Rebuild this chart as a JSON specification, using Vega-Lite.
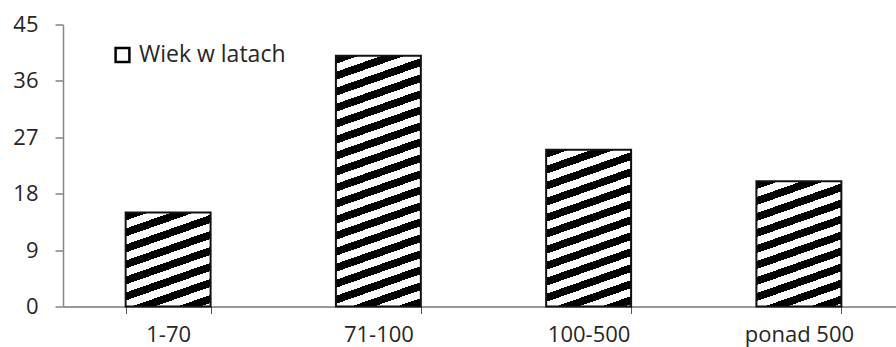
{
  "$schema": "https://vega.github.io/schema/vega-lite/v6.json",
  "autosize": "none",
  "width": 833,
  "height": 282,
  "padding": {"left": 63, "top": 24.5, "right": 0, "bottom": 40.5},
  "background": "white",
  "config": {"view": {"stroke": null}, "font": "Open Sans"},
  "data": {"values": [
    {"cat": "1-70", "v": 15},
    {"cat": "71-100", "v": 40},
    {"cat": "100-500", "v": 25},
    {"cat": "ponad 500", "v": 20}
  ]},
  "encoding": {
    "x": {"field": "cat", "type": "nominal", "sort": null,
      "scale": {"range": [0, 841], "paddingInner": 0.596, "paddingOuter": 0.298},
      "axis": {"title": null, "labelAngle": 0, "tickBand": "extent", "tickSize": 7, "labelPadding": 11,
        "labelFontSize": 22, "labelFont": "Open Sans", "labelColor": "#262626", "domainColor": "#333", "tickColor": "#555", "domainWidth": 1.2}},
    "y": {"field": "v", "type": "quantitative",
      "scale": {"domain": [0, 45], "nice": false},
      "axis": {"title": null, "values": [0, 9, 18, 27, 36, 45], "grid": false, "tickSize": 8, "labelPadding": 17,
        "labelFontSize": 22, "labelFont": "Open Sans", "labelColor": "#262626", "domainColor": "#888", "tickColor": "#444", "domainWidth": 1.5}}
  },
  "layer": [
    {
      "mark": {"type": "bar", "strokeWidth": 2, "stroke": "#111111"},
      "encoding": {
        "fill": {
          "condition": [
            {"test": "datum.cat === '1-70'", "value": {"gradient": "linear", "x1": 0, "y1": 0, "x2": 0.3787, "y2": 1.1966, "stops": [
              {"offset": 0, "color": "#000"}, {"offset": 0.0647, "color": "#000"}, {"offset": 0.0647, "color": "#fff"}, {"offset": 0.1294, "color": "#fff"},
              {"offset": 0.1294, "color": "#000"}, {"offset": 0.1940, "color": "#000"}, {"offset": 0.1940, "color": "#fff"}, {"offset": 0.2587, "color": "#fff"},
              {"offset": 0.2587, "color": "#000"}, {"offset": 0.3234, "color": "#000"}, {"offset": 0.3234, "color": "#fff"}, {"offset": 0.3881, "color": "#fff"},
              {"offset": 0.3881, "color": "#000"}, {"offset": 0.4528, "color": "#000"}, {"offset": 0.4528, "color": "#fff"}, {"offset": 0.5175, "color": "#fff"},
              {"offset": 0.5175, "color": "#000"}, {"offset": 0.5822, "color": "#000"}, {"offset": 0.5822, "color": "#fff"}, {"offset": 0.6468, "color": "#fff"},
              {"offset": 0.6468, "color": "#000"}, {"offset": 0.7115, "color": "#000"}, {"offset": 0.7115, "color": "#fff"}, {"offset": 0.7762, "color": "#fff"},
              {"offset": 0.7762, "color": "#000"}, {"offset": 0.8409, "color": "#000"}, {"offset": 0.8409, "color": "#fff"}, {"offset": 0.9056, "color": "#fff"},
              {"offset": 0.9056, "color": "#000"}, {"offset": 0.9703, "color": "#000"}, {"offset": 0.9703, "color": "#fff"}, {"offset": 1, "color": "#fff"}
            ]}},
            {"test": "datum.cat === '71-100'", "value": {"gradient": "linear", "x1": 0, "y1": 0, "x2": 0.1309, "y2": 1.1032, "stops": [
              {"offset": 0, "color": "#000"}, {"offset": 0.0285, "color": "#000"}, {"offset": 0.0285, "color": "#fff"}, {"offset": 0.0570, "color": "#fff"},
              {"offset": 0.0570, "color": "#000"}, {"offset": 0.0856, "color": "#000"}, {"offset": 0.0856, "color": "#fff"}, {"offset": 0.1141, "color": "#fff"},
              {"offset": 0.1141, "color": "#000"}, {"offset": 0.1426, "color": "#000"}, {"offset": 0.1426, "color": "#fff"}, {"offset": 0.1711, "color": "#fff"},
              {"offset": 0.1711, "color": "#000"}, {"offset": 0.1997, "color": "#000"}, {"offset": 0.1997, "color": "#fff"}, {"offset": 0.2282, "color": "#fff"},
              {"offset": 0.2282, "color": "#000"}, {"offset": 0.2567, "color": "#000"}, {"offset": 0.2567, "color": "#fff"}, {"offset": 0.2852, "color": "#fff"},
              {"offset": 0.2852, "color": "#000"}, {"offset": 0.3138, "color": "#000"}, {"offset": 0.3138, "color": "#fff"}, {"offset": 0.3423, "color": "#fff"},
              {"offset": 0.3423, "color": "#000"}, {"offset": 0.3708, "color": "#000"}, {"offset": 0.3708, "color": "#fff"}, {"offset": 0.3993, "color": "#fff"},
              {"offset": 0.3993, "color": "#000"}, {"offset": 0.4279, "color": "#000"}, {"offset": 0.4279, "color": "#fff"}, {"offset": 0.4564, "color": "#fff"},
              {"offset": 0.4564, "color": "#000"}, {"offset": 0.4849, "color": "#000"}, {"offset": 0.4849, "color": "#fff"}, {"offset": 0.5134, "color": "#fff"},
              {"offset": 0.5134, "color": "#000"}, {"offset": 0.5420, "color": "#000"}, {"offset": 0.5420, "color": "#fff"}, {"offset": 0.5705, "color": "#fff"},
              {"offset": 0.5705, "color": "#000"}, {"offset": 0.5990, "color": "#000"}, {"offset": 0.5990, "color": "#fff"}, {"offset": 0.6275, "color": "#fff"},
              {"offset": 0.6275, "color": "#000"}, {"offset": 0.6561, "color": "#000"}, {"offset": 0.6561, "color": "#fff"}, {"offset": 0.6846, "color": "#fff"},
              {"offset": 0.6846, "color": "#000"}, {"offset": 0.7131, "color": "#000"}, {"offset": 0.7131, "color": "#fff"}, {"offset": 0.7416, "color": "#fff"},
              {"offset": 0.7416, "color": "#000"}, {"offset": 0.7702, "color": "#000"}, {"offset": 0.7702, "color": "#fff"}, {"offset": 0.7987, "color": "#fff"},
              {"offset": 0.7987, "color": "#000"}, {"offset": 0.8272, "color": "#000"}, {"offset": 0.8272, "color": "#fff"}, {"offset": 0.8557, "color": "#fff"},
              {"offset": 0.8557, "color": "#000"}, {"offset": 0.8843, "color": "#000"}, {"offset": 0.8843, "color": "#fff"}, {"offset": 0.9128, "color": "#fff"},
              {"offset": 0.9128, "color": "#000"}, {"offset": 0.9413, "color": "#000"}, {"offset": 0.9413, "color": "#fff"}, {"offset": 0.9698, "color": "#fff"},
              {"offset": 0.9698, "color": "#000"}, {"offset": 0.9983, "color": "#000"}, {"offset": 0.9983, "color": "#fff"}, {"offset": 1, "color": "#fff"}
            ]}},
            {"test": "datum.cat === '100-500'", "value": {"gradient": "linear", "x1": 0, "y1": 0, "x2": 0.2181, "y2": 1.1485, "stops": [
              {"offset": 0, "color": "#000"}, {"offset": 0.0429, "color": "#000"}, {"offset": 0.0429, "color": "#fff"}, {"offset": 0.0858, "color": "#fff"},
              {"offset": 0.0858, "color": "#000"}, {"offset": 0.1288, "color": "#000"}, {"offset": 0.1288, "color": "#fff"}, {"offset": 0.1717, "color": "#fff"},
              {"offset": 0.1717, "color": "#000"}, {"offset": 0.2146, "color": "#000"}, {"offset": 0.2146, "color": "#fff"}, {"offset": 0.2575, "color": "#fff"},
              {"offset": 0.2575, "color": "#000"}, {"offset": 0.3004, "color": "#000"}, {"offset": 0.3004, "color": "#fff"}, {"offset": 0.3434, "color": "#fff"},
              {"offset": 0.3434, "color": "#000"}, {"offset": 0.3863, "color": "#000"}, {"offset": 0.3863, "color": "#fff"}, {"offset": 0.4292, "color": "#fff"},
              {"offset": 0.4292, "color": "#000"}, {"offset": 0.4721, "color": "#000"}, {"offset": 0.4721, "color": "#fff"}, {"offset": 0.5150, "color": "#fff"},
              {"offset": 0.5150, "color": "#000"}, {"offset": 0.5580, "color": "#000"}, {"offset": 0.5580, "color": "#fff"}, {"offset": 0.6009, "color": "#fff"},
              {"offset": 0.6009, "color": "#000"}, {"offset": 0.6438, "color": "#000"}, {"offset": 0.6438, "color": "#fff"}, {"offset": 0.6867, "color": "#fff"},
              {"offset": 0.6867, "color": "#000"}, {"offset": 0.7296, "color": "#000"}, {"offset": 0.7296, "color": "#fff"}, {"offset": 0.7725, "color": "#fff"},
              {"offset": 0.7725, "color": "#000"}, {"offset": 0.8155, "color": "#000"}, {"offset": 0.8155, "color": "#fff"}, {"offset": 0.8584, "color": "#fff"},
              {"offset": 0.8584, "color": "#000"}, {"offset": 0.9013, "color": "#000"}, {"offset": 0.9013, "color": "#fff"}, {"offset": 0.9442, "color": "#fff"},
              {"offset": 0.9442, "color": "#000"}, {"offset": 0.9871, "color": "#000"}, {"offset": 0.9871, "color": "#fff"}, {"offset": 1, "color": "#fff"}
            ]}}
          ],
          "value": {"gradient": "linear", "x1": 0, "y1": 0, "x2": 0.2781, "y2": 1.1714, "stops": [
            {"offset": 0, "color": "#000"}, {"offset": 0.0516, "color": "#000"}, {"offset": 0.0516, "color": "#fff"}, {"offset": 0.1032, "color": "#fff"},
            {"offset": 0.1032, "color": "#000"}, {"offset": 0.1548, "color": "#000"}, {"offset": 0.1548, "color": "#fff"}, {"offset": 0.2064, "color": "#fff"},
            {"offset": 0.2064, "color": "#000"}, {"offset": 0.2580, "color": "#000"}, {"offset": 0.2580, "color": "#fff"}, {"offset": 0.3096, "color": "#fff"},
            {"offset": 0.3096, "color": "#000"}, {"offset": 0.3612, "color": "#000"}, {"offset": 0.3612, "color": "#fff"}, {"offset": 0.4128, "color": "#fff"},
            {"offset": 0.4128, "color": "#000"}, {"offset": 0.4644, "color": "#000"}, {"offset": 0.4644, "color": "#fff"}, {"offset": 0.5160, "color": "#fff"},
            {"offset": 0.5160, "color": "#000"}, {"offset": 0.5676, "color": "#000"}, {"offset": 0.5676, "color": "#fff"}, {"offset": 0.6192, "color": "#fff"},
            {"offset": 0.6192, "color": "#000"}, {"offset": 0.6708, "color": "#000"}, {"offset": 0.6708, "color": "#fff"}, {"offset": 0.7224, "color": "#fff"},
            {"offset": 0.7224, "color": "#000"}, {"offset": 0.7740, "color": "#000"}, {"offset": 0.7740, "color": "#fff"}, {"offset": 0.8256, "color": "#fff"},
            {"offset": 0.8256, "color": "#000"}, {"offset": 0.8772, "color": "#000"}, {"offset": 0.8772, "color": "#fff"}, {"offset": 0.9288, "color": "#fff"},
            {"offset": 0.9288, "color": "#000"}, {"offset": 0.9804, "color": "#000"}, {"offset": 0.9804, "color": "#fff"}, {"offset": 1, "color": "#fff"}
          ]}
        }
      }
    },
    {
      "mark": {"type": "point", "opacity": 0, "shape": "square"},
      "encoding": {
        "stroke": {"datum": "Wiek w latach", "type": "nominal", "scale": {"range": ["#000000"]},
          "legend": {"title": null, "orient": "none", "legendX": 48, "legendY": 19, "symbolType": "square", "symbolSize": 190,
            "symbolStrokeWidth": 2.5, "symbolFillColor": "#ffffff", "symbolStrokeColor": "#000000", "symbolOpacity": 1,
            "labelFontSize": 23, "labelFont": "Open Sans", "labelColor": "#262626", "labelOffset": 5}}
      }
    }
  ]
}
